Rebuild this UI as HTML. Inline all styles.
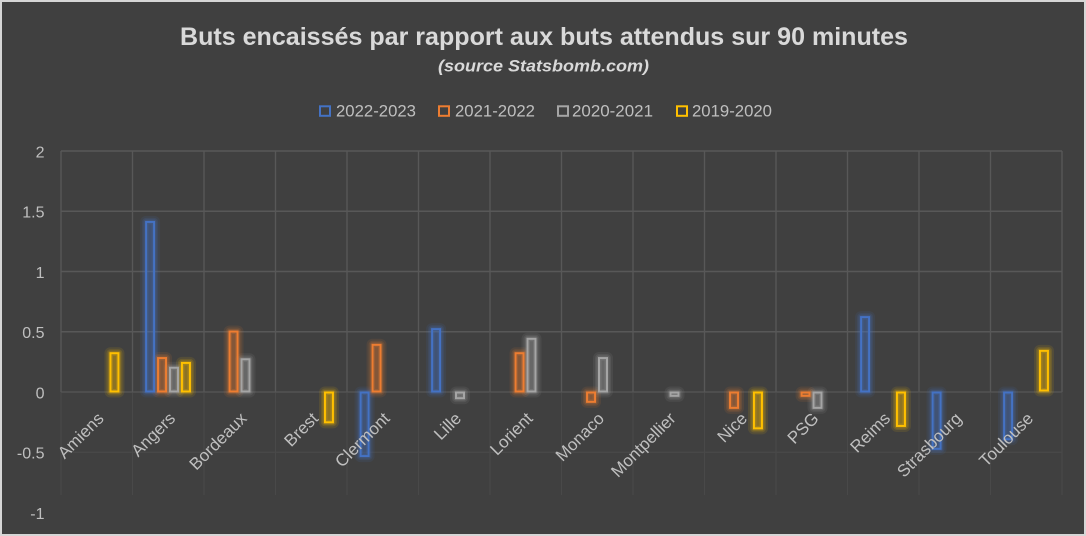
<!DOCTYPE html>
<html><head><meta charset="utf-8"><style>
html,body{margin:0;padding:0;background:#404040;}
svg{display:block;}
text{font-family:"Liberation Sans",Arial,sans-serif;}
</style></head><body>
<svg width="1086" height="536" viewBox="0 0 1086 536" xmlns="http://www.w3.org/2000/svg" xmlns:xlink="http://www.w3.org/1999/xlink">
<defs>
<g id="bars">
<rect x="110.45" y="353.2" width="8" height="38.3" stroke="#ffc000" fill="#ffc000"/>
<rect x="146.1" y="221.9" width="8" height="169.6" stroke="#4472c4" fill="#4472c4"/>
<rect x="158.05" y="358.06" width="8" height="33.44" stroke="#ed7d31" fill="#ed7d31"/>
<rect x="170" y="367.7" width="8" height="23.8" stroke="#a5a5a5" fill="#a5a5a5"/>
<rect x="181.95" y="362.9" width="8" height="28.6" stroke="#ffc000" fill="#ffc000"/>
<rect x="229.55" y="331.55" width="8" height="59.95" stroke="#ed7d31" fill="#ed7d31"/>
<rect x="241.5" y="359.26" width="8" height="32.24" stroke="#a5a5a5" fill="#a5a5a5"/>
<rect x="324.95" y="392.5" width="8" height="29.83" stroke="#ffc000" fill="#ffc000"/>
<rect x="360.6" y="392.5" width="8" height="63.57" stroke="#4472c4" fill="#4472c4"/>
<rect x="372.55" y="344.8" width="8" height="46.7" stroke="#ed7d31" fill="#ed7d31"/>
<rect x="432.1" y="329.14" width="8" height="62.36" stroke="#4472c4" fill="#4472c4"/>
<rect x="456" y="392.5" width="8" height="5.73" stroke="#a5a5a5" fill="#a5a5a5"/>
<rect x="515.55" y="353.2" width="8" height="38.3" stroke="#ed7d31" fill="#ed7d31"/>
<rect x="527.5" y="338.78" width="8" height="52.72" stroke="#a5a5a5" fill="#a5a5a5"/>
<rect x="587.05" y="392.5" width="8" height="9.35" stroke="#ed7d31" fill="#ed7d31"/>
<rect x="599" y="358.06" width="8" height="33.44" stroke="#a5a5a5" fill="#a5a5a5"/>
<rect x="670.5" y="392.5" width="8" height="3.32" stroke="#a5a5a5" fill="#a5a5a5"/>
<rect x="730.05" y="392.5" width="8" height="15.37" stroke="#ed7d31" fill="#ed7d31"/>
<rect x="753.95" y="392.5" width="8" height="35.86" stroke="#ffc000" fill="#ffc000"/>
<rect x="801.55" y="392.5" width="8" height="3.32" stroke="#ed7d31" fill="#ed7d31"/>
<rect x="813.5" y="392.5" width="8" height="15.37" stroke="#a5a5a5" fill="#a5a5a5"/>
<rect x="861.1" y="317.09" width="8" height="74.41" stroke="#4472c4" fill="#4472c4"/>
<rect x="896.95" y="392.5" width="8" height="33.45" stroke="#ffc000" fill="#ffc000"/>
<rect x="932.6" y="392.5" width="8" height="56.34" stroke="#4472c4" fill="#4472c4"/>
<rect x="1004.1" y="392.5" width="8" height="46.7" stroke="#4472c4" fill="#4472c4"/>
<rect x="1039.95" y="350.83" width="8" height="39.67" stroke="#ffc000" fill="#ffc000"/>
</g>
</defs>
<rect x="0" y="0" width="1086" height="536" fill="#d6d6d6"/>
<rect x="2" y="2" width="1082" height="532" fill="#404040"/>

<!-- title -->
<text x="180" y="45" font-size="25" font-weight="bold" fill="#d9d9d9" textLength="728" lengthAdjust="spacingAndGlyphs">Buts encaissés par rapport aux buts attendus sur 90 minutes</text>
<text x="438" y="71.7" font-size="16.5" font-weight="bold" font-style="italic" fill="#d9d9d9" textLength="211" lengthAdjust="spacingAndGlyphs">(source Statsbomb.com)</text>

<!-- legend -->
<g stroke-width="2" fill="none">
<rect x="320" y="106.3" width="10" height="9.5" stroke="#4472c4"/>
<rect x="439" y="106.3" width="10" height="9.5" stroke="#ed7d31"/>
<rect x="558" y="106.3" width="10" height="9.5" stroke="#a5a5a5"/>
<rect x="677" y="106.3" width="10" height="9.5" stroke="#ffc000"/>
</g>
<g font-size="17" fill="#bfbfbf">
<text x="336" y="116.7" textLength="80" lengthAdjust="spacingAndGlyphs">2022-2023</text>
<text x="455" y="116.7" textLength="80" lengthAdjust="spacingAndGlyphs">2021-2022</text>
<text x="572" y="116.7" textLength="81" lengthAdjust="spacingAndGlyphs">2020-2021</text>
<text x="692" y="116.7" textLength="80" lengthAdjust="spacingAndGlyphs">2019-2020</text>
</g>

<!-- faint lower gridlines -->
<g stroke="#494949" stroke-width="1.2">
<line x1="61" y1="452.25" x2="1062" y2="452.25"/>
<line x1="61" y1="392" x2="61" y2="495"/>
<line x1="132.5" y1="392" x2="132.5" y2="495"/>
<line x1="204" y1="392" x2="204" y2="495"/>
<line x1="275.5" y1="392" x2="275.5" y2="495"/>
<line x1="347" y1="392" x2="347" y2="495"/>
<line x1="418.5" y1="392" x2="418.5" y2="495"/>
<line x1="490" y1="392" x2="490" y2="495"/>
<line x1="561.5" y1="392" x2="561.5" y2="495"/>
<line x1="633" y1="392" x2="633" y2="495"/>
<line x1="704.5" y1="392" x2="704.5" y2="495"/>
<line x1="776" y1="392" x2="776" y2="495"/>
<line x1="847.5" y1="392" x2="847.5" y2="495"/>
<line x1="919" y1="392" x2="919" y2="495"/>
<line x1="990.5" y1="392" x2="990.5" y2="495"/>
<line x1="1062" y1="392" x2="1062" y2="495"/>
</g>
<!-- upper gridlines -->
<g stroke="#585858" stroke-width="1.4">
<line x1="61" y1="151" x2="1062" y2="151"/>
<line x1="61" y1="211.25" x2="1062" y2="211.25"/>
<line x1="61" y1="271.5" x2="1062" y2="271.5"/>
<line x1="61" y1="331.75" x2="1062" y2="331.75"/>
<line x1="61" y1="392" x2="1062" y2="392" stroke="#525252"/>
<line x1="61" y1="151" x2="61" y2="392"/>
<line x1="132.5" y1="151" x2="132.5" y2="392"/>
<line x1="204" y1="151" x2="204" y2="392"/>
<line x1="275.5" y1="151" x2="275.5" y2="392"/>
<line x1="347" y1="151" x2="347" y2="392"/>
<line x1="418.5" y1="151" x2="418.5" y2="392"/>
<line x1="490" y1="151" x2="490" y2="392"/>
<line x1="561.5" y1="151" x2="561.5" y2="392"/>
<line x1="633" y1="151" x2="633" y2="392"/>
<line x1="704.5" y1="151" x2="704.5" y2="392"/>
<line x1="776" y1="151" x2="776" y2="392"/>
<line x1="847.5" y1="151" x2="847.5" y2="392"/>
<line x1="919" y1="151" x2="919" y2="392"/>
<line x1="990.5" y1="151" x2="990.5" y2="392"/>
<line x1="1062" y1="151" x2="1062" y2="392"/>
</g>

<!-- y axis labels -->
<g font-size="16" fill="#bfbfbf" text-anchor="end">
<text x="44.5" y="157.5">2</text>
<text x="44.5" y="217.7">1.5</text>
<text x="44.5" y="278">1</text>
<text x="44.5" y="338.2">0.5</text>
<text x="44.5" y="398.5">0</text>
<text x="44.5" y="458.7">-0.5</text>
<text x="44.5" y="519">-1</text>
</g>

<!-- glow layers (no filters) -->
<use href="#bars" xlink:href="#bars" fill-opacity="0" stroke-width="12" stroke-opacity="0.1" stroke-linejoin="round"/>
<use href="#bars" xlink:href="#bars" fill-opacity="0" stroke-width="8" stroke-opacity="0.14" stroke-linejoin="round"/>
<use href="#bars" xlink:href="#bars" fill-opacity="0.22" stroke-width="5" stroke-opacity="0.2" stroke-linejoin="round"/>
<!-- bar outlines -->
<use href="#bars" xlink:href="#bars" fill-opacity="0" stroke-width="2"/>

<!-- category labels -->
<g font-size="17" fill="#bfbfbf" text-anchor="end">
<text x="104.75" y="419.5" transform="rotate(-45 104.75 419.5)">Amiens</text>
<text x="176.25" y="419.5" transform="rotate(-45 176.25 419.5)">Angers</text>
<text x="247.75" y="419.5" transform="rotate(-45 247.75 419.5)">Bordeaux</text>
<text x="319.25" y="419.5" transform="rotate(-45 319.25 419.5)">Brest</text>
<text x="390.75" y="419.5" transform="rotate(-45 390.75 419.5)">Clermont</text>
<text x="462.25" y="419.5" transform="rotate(-45 462.25 419.5)">Lille</text>
<text x="533.75" y="419.5" transform="rotate(-45 533.75 419.5)">Lorient</text>
<text x="605.25" y="419.5" transform="rotate(-45 605.25 419.5)">Monaco</text>
<text x="676.75" y="419.5" transform="rotate(-45 676.75 419.5)">Montpellier</text>
<text x="748.25" y="419.5" transform="rotate(-45 748.25 419.5)">Nice</text>
<text x="819.75" y="419.5" transform="rotate(-45 819.75 419.5)">PSG</text>
<text x="891.25" y="419.5" transform="rotate(-45 891.25 419.5)">Reims</text>
<text x="962.75" y="419.5" transform="rotate(-45 962.75 419.5)">Strasbourg</text>
<text x="1034.25" y="419.5" transform="rotate(-45 1034.25 419.5)">Toulouse</text>
</g>
</svg>
</body></html>
